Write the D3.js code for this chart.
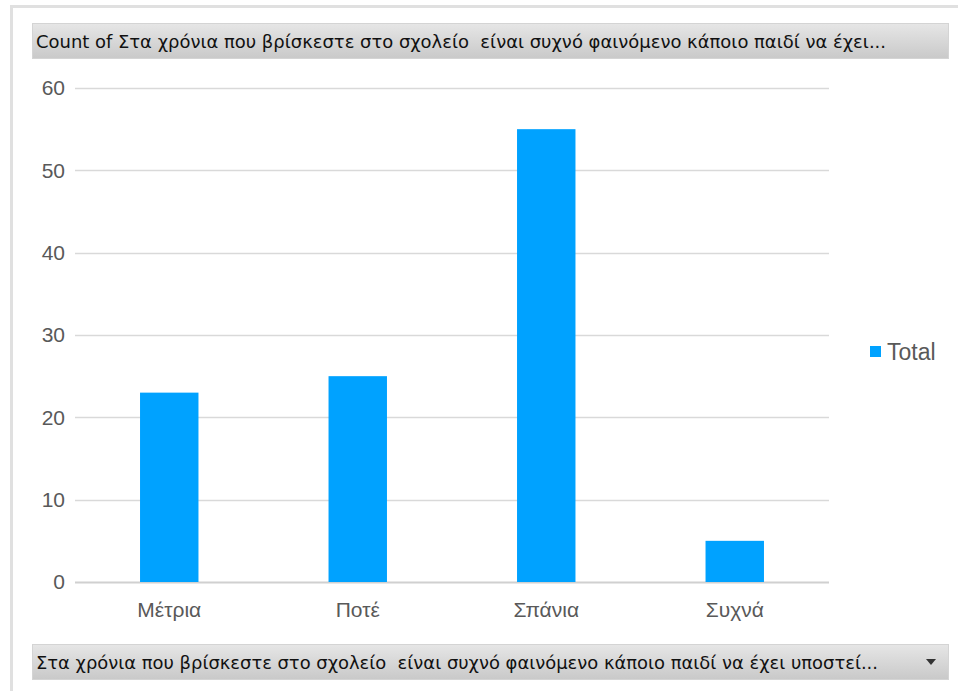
<!DOCTYPE html>
<html>
<head>
<meta charset="utf-8">
<script src="https://cdn.jsdelivr.net/npm/d3@7"></script>
<style>
  body { margin: 0; background: #fff; }
  svg { display: block; }
  text { white-space: pre; }
</style>
</head>
<body>
<svg id="drawing_region"></svg>
<script>
const categories = ['Μέτρια', 'Ποτέ', 'Σπάνια', 'Συχνά'];
const totals = [23, 25, 55, 5];
const yticks = [0, 10, 20, 30, 40, 50, 60];
const seriesName = 'Total';
const titleText = 'Count of Στα χρόνια που βρίσκεστε στο σχολείο  είναι συχνό φαινόμενο κάποιο παιδί να έχει...';
const filterText = 'Στα χρόνια που βρίσκεστε στο σχολείο  είναι συχνό φαινόμενο κάποιο παιδί να έχει υποστεί...';

const data = categories.map((c, i) => ({label: c, value: totals[i]}));

const width = 958, height = 691;
const svg = d3.select('#drawing_region')
    .attr('width', width)
    .attr('height', height);

// gradient for pivot buttons
const grad = svg.append('defs').append('linearGradient')
    .attr('id', 'btn').attr('x1', 0).attr('y1', 0).attr('x2', 0).attr('y2', 1);
grad.append('stop').attr('offset', '0%').attr('stop-color', '#e6e6e6');
grad.append('stop').attr('offset', '100%').attr('stop-color', '#c9c9c9');

// outer frame
svg.append('path')
    .attr('d', `M11.5,${height} V6.5 H${width}`)
    .attr('fill', 'none')
    .attr('stroke', '#e0e0e0')
    .attr('stroke-width', 3);

// title button
svg.append('rect')
    .attr('x', 32.5).attr('y', 23.5).attr('width', 916).attr('height', 35)
    .attr('fill', 'url(#btn)').attr('stroke', '#d4d4d4');
svg.append('text')
    .attr('x', 36).attr('y', 48)
    .attr('font-family', 'DejaVu Sans Condensed, sans-serif')
    .attr('font-size', 18)
    .attr('fill', '#111')
    .attr('textLength', 850)
    .attr('lengthAdjust', 'spacingAndGlyphs')
    .text(titleText);

// axis filter button
svg.append('rect')
    .attr('x', 32.5).attr('y', 644.5).attr('width', 916).attr('height', 35)
    .attr('fill', 'url(#btn)').attr('stroke', '#d4d4d4');
svg.append('text')
    .attr('x', 36).attr('y', 669)
    .attr('font-family', 'DejaVu Sans Condensed, sans-serif')
    .attr('font-size', 18)
    .attr('fill', '#111')
    .attr('textLength', 842)
    .attr('lengthAdjust', 'spacingAndGlyphs')
    .text(filterText);
svg.append('path')
    .attr('d', 'M926,659 L936,659 L931,665 Z')
    .attr('fill', '#333');

// chart area
const margin = {left: 75, right: 129, top: 88, bottom: 109};
const innerW = width - margin.left - margin.right;
const innerH = height - margin.top - margin.bottom;
const chart = svg.append('g')
    .attr('transform', `translate(${margin.left}, ${margin.top})`);

const xscale = d3.scaleBand()
    .domain(categories)
    .range([0, innerW])
    .padding(0);
const yscale = d3.scaleLinear()
    .domain([0, 60])
    .range([innerH, 0]);

// gridlines
chart.append('g')
    .selectAll('line')
    .data(yticks)
    .join('line')
    .attr('x1', 0).attr('x2', innerW)
    .attr('y1', d => Math.round(yscale(d)) + 0.5)
    .attr('y2', d => Math.round(yscale(d)) + 0.5)
    .attr('stroke', d => d === 0 ? '#d0d0d0' : '#d9d9d9')
    .attr('stroke-width', d => d === 0 ? 2 : 1.5);

// y axis labels
const yaxis = d3.axisLeft(yscale).tickValues(yticks).tickSize(0).tickPadding(10);
const yg = chart.append('g').call(yaxis);
yg.select('.domain').remove();
yg.selectAll('text')
    .attr('font-family', 'Liberation Sans, Arial, sans-serif')
    .attr('font-size', 21)
    .attr('fill', '#595959');

// bars
const barW = xscale.bandwidth() * 0.31;
chart.selectAll('rect.bar')
    .data(data)
    .join('rect')
    .attr('class', 'bar')
    .attr('x', d => xscale(d.label) + xscale.bandwidth() / 2 - barW / 2)
    .attr('y', d => yscale(d.value))
    .attr('width', barW)
    .attr('height', d => innerH - yscale(d.value))
    .attr('fill', '#00a2ff');

// x axis labels
const xaxis = d3.axisBottom(xscale).tickSize(0).tickPadding(20);
const xg = chart.append('g')
    .attr('transform', `translate(0, ${innerH})`)
    .call(xaxis);
xg.select('.domain').remove();
xg.selectAll('text')
    .attr('font-family', 'Liberation Sans, Arial, sans-serif')
    .attr('font-size', 21)
    .attr('fill', '#595959');

// legend
const legend = svg.append('g').attr('transform', 'translate(870, 352)');
legend.append('rect')
    .attr('x', 0).attr('y', -6).attr('width', 11).attr('height', 11)
    .attr('fill', '#00a2ff');
legend.append('text')
    .attr('x', 17).attr('y', 0)
    .attr('dy', '0.35em')
    .attr('font-family', 'Liberation Sans, Arial, sans-serif')
    .attr('font-size', 23)
    .attr('fill', '#595959')
    .text(seriesName);
</script>
</body>
</html>
